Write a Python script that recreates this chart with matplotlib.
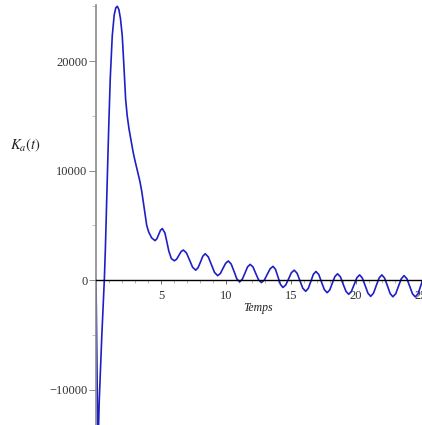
import matplotlib
matplotlib.use("Agg")
import matplotlib.pyplot as plt
from matplotlib.ticker import MultipleLocator, FixedLocator

# Values
t_vals = [0, 0.04, 0.08, 0.12, 0.16, 0.2, 0.25, 0.35, 0.45, 0.55, 0.64, 0.72, 0.82, 0.92,
          1.0, 1.1, 1.25, 1.4, 1.52, 1.64, 1.76, 1.88, 2.02, 2.15, 2.28, 2.4, 2.54, 2.74,
          2.87, 3.0, 3.2, 3.38, 3.52, 3.64, 3.77, 3.9, 4.05, 4.28, 4.54,
          4.68, 4.82, 4.96, 5.1,
          5.3, 5.45, 5.6, 5.8, 6.03,
          6.20, 6.38, 6.55, 6.72,
          6.96, 7.20, 7.43, 7.67,
          7.85, 8.04, 8.22, 8.40,
          8.64, 8.88, 9.12, 9.36,
          9.57, 9.77, 9.98, 10.18,
          10.40, 10.62, 10.83, 11.05,
          11.25, 11.46, 11.66, 11.86,
          12.08, 12.29, 12.51, 12.72,
          12.95, 13.17, 13.40, 13.62,
          13.81, 14.00, 14.19, 14.38,
          14.60, 14.82, 15.03, 15.25,
          15.47, 15.69, 15.91, 16.13,
          16.33, 16.53, 16.72, 16.92,
          17.14, 17.35, 17.57, 17.78,
          17.98, 18.18, 18.38, 18.58,
          18.80, 19.01, 19.23, 19.44,
          19.65, 19.86, 20.07, 20.28,
          20.49, 20.71, 20.92, 21.13,
          21.35, 21.56, 21.78, 21.99,
          22.20, 22.42, 22.63, 22.84,
          23.06, 23.27, 23.49, 23.70,
          23.92, 24.13, 24.35, 24.56,
          24.78, 25.0, 25.1]
k_vals = [0, -4500, -9500, -12800, -13700, -13300, -11000, -8000, -5000, -2400, 0, 2800, 7300, 11500,
          14800, 18500, 22300, 24200, 24850, 25000, 24700, 23900, 22300, 19500, 16500, 15000, 13800, 12500,
          11600, 10900, 9900, 9000, 8100, 7100, 6000, 5000, 4400, 3850, 3600,
          3760, 4150, 4540, 4700,
          4300, 3500, 2650, 1950, 1760,
          1900, 2250, 2600, 2740,
          2470, 1820, 1170, 900,
          1120, 1650, 2180, 2400,
          2110, 1400, 690, 400,
          600, 1070, 1540, 1740,
          1460, 790, 110, -170,
          60, 630, 1200, 1430,
          1190, 600, 10, -230,
          -10, 510, 1030, 1250,
          970, 290, -400, -680,
          -450, 110, 670, 900,
          620, -65, -750, -1030,
          -770, -125, 520, 780,
          500, -190, -880, -1160,
          -910, -295, 320, 570,
          300, -365, -1030, -1300,
          -1040, -415, 210, 470,
          180, -510, -1200, -1490,
          -1200, -510, 180, 470,
          180, -530, -1240, -1530,
          -1250, -565, 120, 400,
          115, -570, -1260, -1540,
          -1250, -450, -100]

x_ticks = [5, 10, 15, 20, 25]
x_tick_labels = ["5", "10", "15", "20", "25"]
y_ticks = [-10000, 0, 10000, 20000]
y_tick_labels = ["\u221210000", "0", "10000", "20000"]

plt.rcParams['mathtext.fontset'] = 'stix'
serif = ['Liberation Serif', 'DejaVu Serif']

W, H = 422, 425
fig = plt.figure(figsize=(W / 100, H / 100), dpi=100)
ax = fig.add_axes([96 / W, 0, 326 / W, 419.8 / H])

ax.plot(t_vals, k_vals, color='#1f1fc8', lw=1.2, clip_on=True)

ax.set_xlim(0, 25.08)
ax.set_ylim(-13240, 25100)

for s in ['top', 'right']:
    ax.spines[s].set_visible(False)
ax.spines['left'].set_color('#8a8a8a')
ax.spines['left'].set_linewidth(1.2)
ax.spines['bottom'].set_position(('data', 0))
ax.spines['bottom'].set_color('black')
ax.spines['bottom'].set_linewidth(1.0)

ax.xaxis.set_major_locator(FixedLocator(x_ticks))
ax.set_xticklabels(x_tick_labels, fontfamily=serif, fontsize=9, color='#333333')
ax.xaxis.set_minor_locator(MultipleLocator(1))
ax.yaxis.set_major_locator(FixedLocator(y_ticks))
ax.set_yticklabels(y_tick_labels, fontfamily=serif, fontsize=9, color='#333333')
ax.yaxis.set_minor_locator(MultipleLocator(5000))

ax.tick_params(axis='x', which='major', direction='out', length=3, width=0.6, pad=4, colors='#555555', labelcolor='#333333')
ax.tick_params(axis='x', which='minor', direction='out', length=2, width=0.5, colors='#999999')
ax.tick_params(axis='y', which='major', direction='out', length=5, width=0.6, pad=1, colors='#777777', labelcolor='#333333')
ax.tick_params(axis='y', which='minor', direction='out', length=3, width=0.5, colors='#aaaaaa')

fig.text(25 / W, 1 - 145 / H, r'$K_a(t)$', ha='center', va='center', fontsize=10.5, color='#222222')
fig.text(258.5 / W, 1 - 308.5 / H, 'Temps', ha='center', va='center', fontsize=8.5,
         fontstyle='italic', fontfamily=serif, color='#222222')

fig.savefig('out.png', dpi=100)
